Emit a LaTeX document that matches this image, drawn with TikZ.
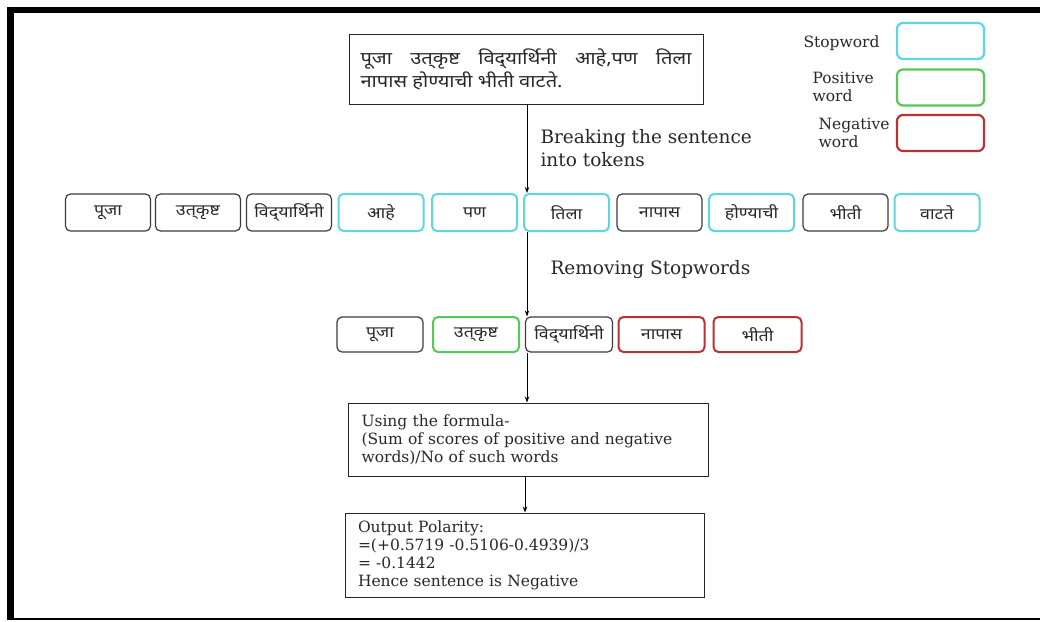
\documentclass[tikz,border=0pt]{standalone}
\usepackage{fontspec}
\setmainfont{DejaVu Serif}
\newfontfamily\dev[Script=Devanagari,FakeStretch=1.15]{Noto Sans}
\usetikzlibrary{arrows.meta}
\definecolor{cyanb}{RGB}{95,215,222}
\definecolor{greenb}{RGB}{85,200,85}
\definecolor{redb}{RGB}{185,50,55}
\definecolor{grayb}{RGB}{60,60,60}
\definecolor{txt}{RGB}{40,40,40}
\newcommand{\utk}{उत्^^^^200cकृष्ट}
\newcommand{\vid}{विद्^^^^200cयार्थिनी}
\tikzset{
  tok/.style={draw=grayb, line width=1.2pt, rounded corners=5pt, minimum width=85pt, minimum height=37pt, inner sep=0pt, font=\dev\fontsize{15.5}{17}\selectfont, text=txt},
  stopw/.style={tok, draw=cyanb, line width=2pt},
  posw/.style={tok, draw=greenb, line width=2pt},
  negw/.style={tok, draw=redb, line width=2pt},
  legbox/.style={rounded corners=6pt, line width=2.2pt, minimum width=87pt, minimum height=36pt},
  flowbox/.style={draw=black!85, line width=1pt, inner xsep=13pt, align=left, text=txt},
  lbl/.style={font=\fontsize{18.5}{23}\selectfont, align=left, anchor=west, text=txt},
  leg/.style={font=\fontsize{15.5}{18}\selectfont, align=left, anchor=west, text=txt},
  arr/.style={-{Stealth[length=6pt,width=4.5pt]}, line width=0.9pt, black}
}
\begin{document}
\begin{tikzpicture}[x=1pt,y=-1pt]
\useasboundingbox (0,0) rectangle (1040,621);
\fill[white] (0,0) rectangle (1040,621);
% frame
\fill[black] (7,7) rectangle (1040,13);
\fill[black] (7,7) rectangle (14,620);
\fill[black] (7,617.5) rectangle (1040,620);

% sentence box
\node[flowbox, minimum width=354pt, minimum height=70pt, inner xsep=11.5pt, font=\dev\fontsize{17.5}{23}\selectfont] (sent) at (526,69)
  {\makebox[331pt][s]{पूजा \utk{} \vid{} आहे,पण तिला}\\नापास होण्याची भीती वाटते.};

% legend
\node[legbox, draw=cyanb] (lstop) at (940.5,41) {};
\node[legbox, draw=greenb] (lpos) at (940.5,87.5) {};
\node[legbox, draw=redb] (lneg) at (940.5,133) {};
\node[leg] (tstop) at (800,43) {Stopword};
\node[leg] (tpos) at (809,87) {Positive\\word};
\node[leg] (tneg) at (815,133) {Negative\\word};

% tokens
\node[tok] (t1) at (108,212.5) {पूजा};
\node[tok] (t2) at (198,212.5) {\utk};
\node[tok] (t3) at (289,212.5) {\vid};
\node[stopw] (t4) at (381,212.5) {आहे};
\node[stopw] (t5) at (474.5,212.5) {पण};
\node[stopw] (t6) at (566.5,212.5) {तिला};
\node[tok] (t7) at (659.5,212.5) {नापास};
\node[stopw] (t8) at (751.5,212.5) {होण्याची};
\node[tok] (t9) at (845.5,212.5) {भीती};
\node[stopw] (t10) at (937,212.5) {वाटते};

% filtered
\node[tok, minimum height=35pt, minimum width=86pt] (f1) at (380,334.5) {पूजा};
\node[posw, minimum height=35pt, minimum width=86pt] (f2) at (476,334.5) {\utk};
\node[tok, minimum height=35pt, minimum width=87pt] (f3) at (569,334.5) {\vid};
\node[negw, minimum height=35pt, minimum width=86pt] (f4) at (661.5,334.5) {नापास};
\node[negw, minimum height=35pt, minimum width=88pt] (f5) at (757.5,334.5) {भीती};

% formula & output
\node[flowbox, minimum width=360pt, minimum height=73pt, text width=333pt, font=\fontsize{15.5}{18}\selectfont] (form) at (528,439.5)
  {Using the formula-\\(Sum of scores of positive and negative\\words)/No of such words};
\node[flowbox, minimum width=359pt, minimum height=84pt, text width=333pt, inner xsep=12pt, font=\fontsize{15.5}{18}\selectfont] (out) at (524.5,555)
  {Output Polarity:\\=(+0.5719 -0.5106-0.4939)/3\\= -0.1442\\Hence sentence is Negative};

% labels
\node[lbl] (lb1) at (537,148) {Breaking the sentence\\into tokens};
\node[lbl] (lb2) at (547,270) {Removing Stopwords};

% arrows
\coordinate (ax) at (527,0);
\coordinate (bx) at (525,0);
\draw[arr] (sent.south -| ax) -- (t6.north -| ax);
\draw[arr] (t6.south -| ax) -- (f3.north -| ax);
\draw[arr] (f3.south -| ax) -- (form.north -| ax);
\draw[arr] (form.south -| bx) -- (out.north -| bx);
\end{tikzpicture}
\end{document}
